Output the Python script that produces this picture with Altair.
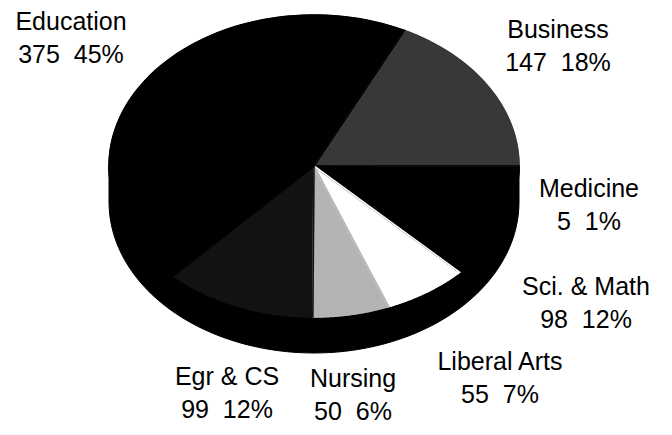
import math
import altair as alt
import pandas as pd

# ---------------- data ----------------
categories = ["Business", "Medicine", "Sci. & Math", "Liberal Arts", "Nursing", "Egr & CS", "Education"]
counts = [147, 5, 98, 55, 50, 99, 375]

# ---------------- styles ----------------
fills = ["#383838", "#000000", "#000000", "#ffffff", "#b4b4b4", "#121212", "#000000"]
outlines = ["#ffffff", "transparent", "transparent", "#000000", "#000000", "#ffffff", "transparent"]

# ---------------- layout (pixels inside the plot area) ----------------
W, H = 656, 419
CX, CY = 306, 158          # pie centre
RX, RY = 205, 151          # elliptical top face radii
DEPTH = 36                 # 3-D side thickness
N = 72                     # points per arc
FONT_SIZE = 25
LINE_HEIGHT = 33
# first-line baseline centre of each label (pixels)
label_px = [550, 581, 578, 492, 345, 219, 63]
label_py = [30, 189, 287, 362, 379, 377, 22]

# scale domains so that 1 data unit = RX (x) / RY (y) pixels, centred on the pie
x_dom = [-CX / RX, (W - CX) / RX]
y_dom = [(CY - H) / RY, CY / RY]
xs = alt.Scale(domain=x_dom, nice=False, zero=False)
ys = alt.Scale(domain=y_dom, nice=False, zero=False)

# Business slice ends at 3 o'clock
start = math.pi / 2 - 2 * math.pi * counts[0] / sum(counts)

df = pd.DataFrame({"category": categories, "count": counts, "idx": list(range(len(categories)))})

wedge_base = (
    alt.Chart(df)
    .transform_joinaggregate(total="sum(count)")
    .transform_window(cum="sum(count)", sort=[alt.SortField("idx")])
    .transform_calculate(
        a0=f"{start} + 2*PI*(datum.cum - datum.count)/datum.total",
        a1=f"{start} + 2*PI*datum.cum/datum.total",
        steps=f"sequence(-1, {N + 1})",
    )
    .transform_flatten(["steps"], as_=["step"])
    .transform_calculate(
        ang=f"datum.a0 + (datum.a1 - datum.a0)*max(datum.step, 0)/{N}",
    )
    .transform_calculate(
        px="datum.step < 0 ? 0 : sin(datum.ang)",
        py="datum.step < 0 ? 0 : cos(datum.ang)",
    )
)

enc = dict(
    x=alt.X("px:Q", scale=xs, axis=None),
    y=alt.Y("py:Q", scale=ys, axis=None),
    order=alt.Order("step:Q"),
    detail="category:N",
)

wedges = wedge_base.mark_line(interpolate="linear-closed", strokeWidth=1).encode(
    fill=alt.Fill("category:N", scale=alt.Scale(domain=categories, range=fills), legend=None),
    stroke=alt.Stroke("category:N", scale=alt.Scale(domain=categories, range=fills), legend=None),
    **enc,
)

edges = wedge_base.mark_line(interpolate="linear-closed", strokeWidth=1.6).encode(
    stroke=alt.Stroke("category:N", scale=alt.Scale(domain=categories, range=outlines), legend=None),
    **enc,
)

# 3-D side of the pie (front half)
side = (
    alt.Chart(pd.DataFrame({"part": ["side"]}))
    .transform_calculate(steps=f"sequence(0, {2 * N + 2})")
    .transform_flatten(["steps"], as_=["step"])
    .transform_calculate(
        ang=f"datum.step <= {N} ? PI/2 + PI*datum.step/{N} : 3*PI/2 - PI*(datum.step - {N + 1})/{N}",
    )
    .transform_calculate(
        px="sin(datum.ang)",
        py=f"datum.step <= {N} ? cos(datum.ang) : cos(datum.ang) - {DEPTH / RY}",
    )
    .mark_line(interpolate="linear-closed", fill="#000000", stroke="#000000", strokeWidth=1)
    .encode(
        x=alt.X("px:Q", scale=xs, axis=None),
        y=alt.Y("py:Q", scale=ys, axis=None),
        order=alt.Order("step:Q"),
    )
)

# labels
lab_df = pd.DataFrame({
    "category": categories,
    "count": counts,
    "lx": [(p - CX) / RX for p in label_px],
    "ly": [(CY - p) / RY for p in label_py],
})
labels = (
    alt.Chart(lab_df)
    .transform_joinaggregate(total="sum(count)")
    .transform_calculate(
        label="datum.category + '|' + datum.count + '\u00a0\u00a0' + round(100*datum.count/datum.total) + '%'"
    )
    .mark_text(
        lineBreak="|",
        align="center",
        baseline="alphabetic",
        font="Liberation Sans",
        fontSize=FONT_SIZE,
        lineHeight=LINE_HEIGHT,
        color="#000000",
    )
    .encode(
        x=alt.X("lx:Q", scale=xs, axis=None),
        y=alt.Y("ly:Q", scale=ys, axis=None),
        text="label:N",
    )
)

chart = (
    alt.layer(side, wedges, edges, labels)
    .properties(width=W, height=H, autosize=alt.AutoSizeParams(type="none"), padding=0, background="#ffffff")
    .configure_view(stroke=None)
)

chart.save("out.html", embed_options={"renderer": "svg", "actions": False})
